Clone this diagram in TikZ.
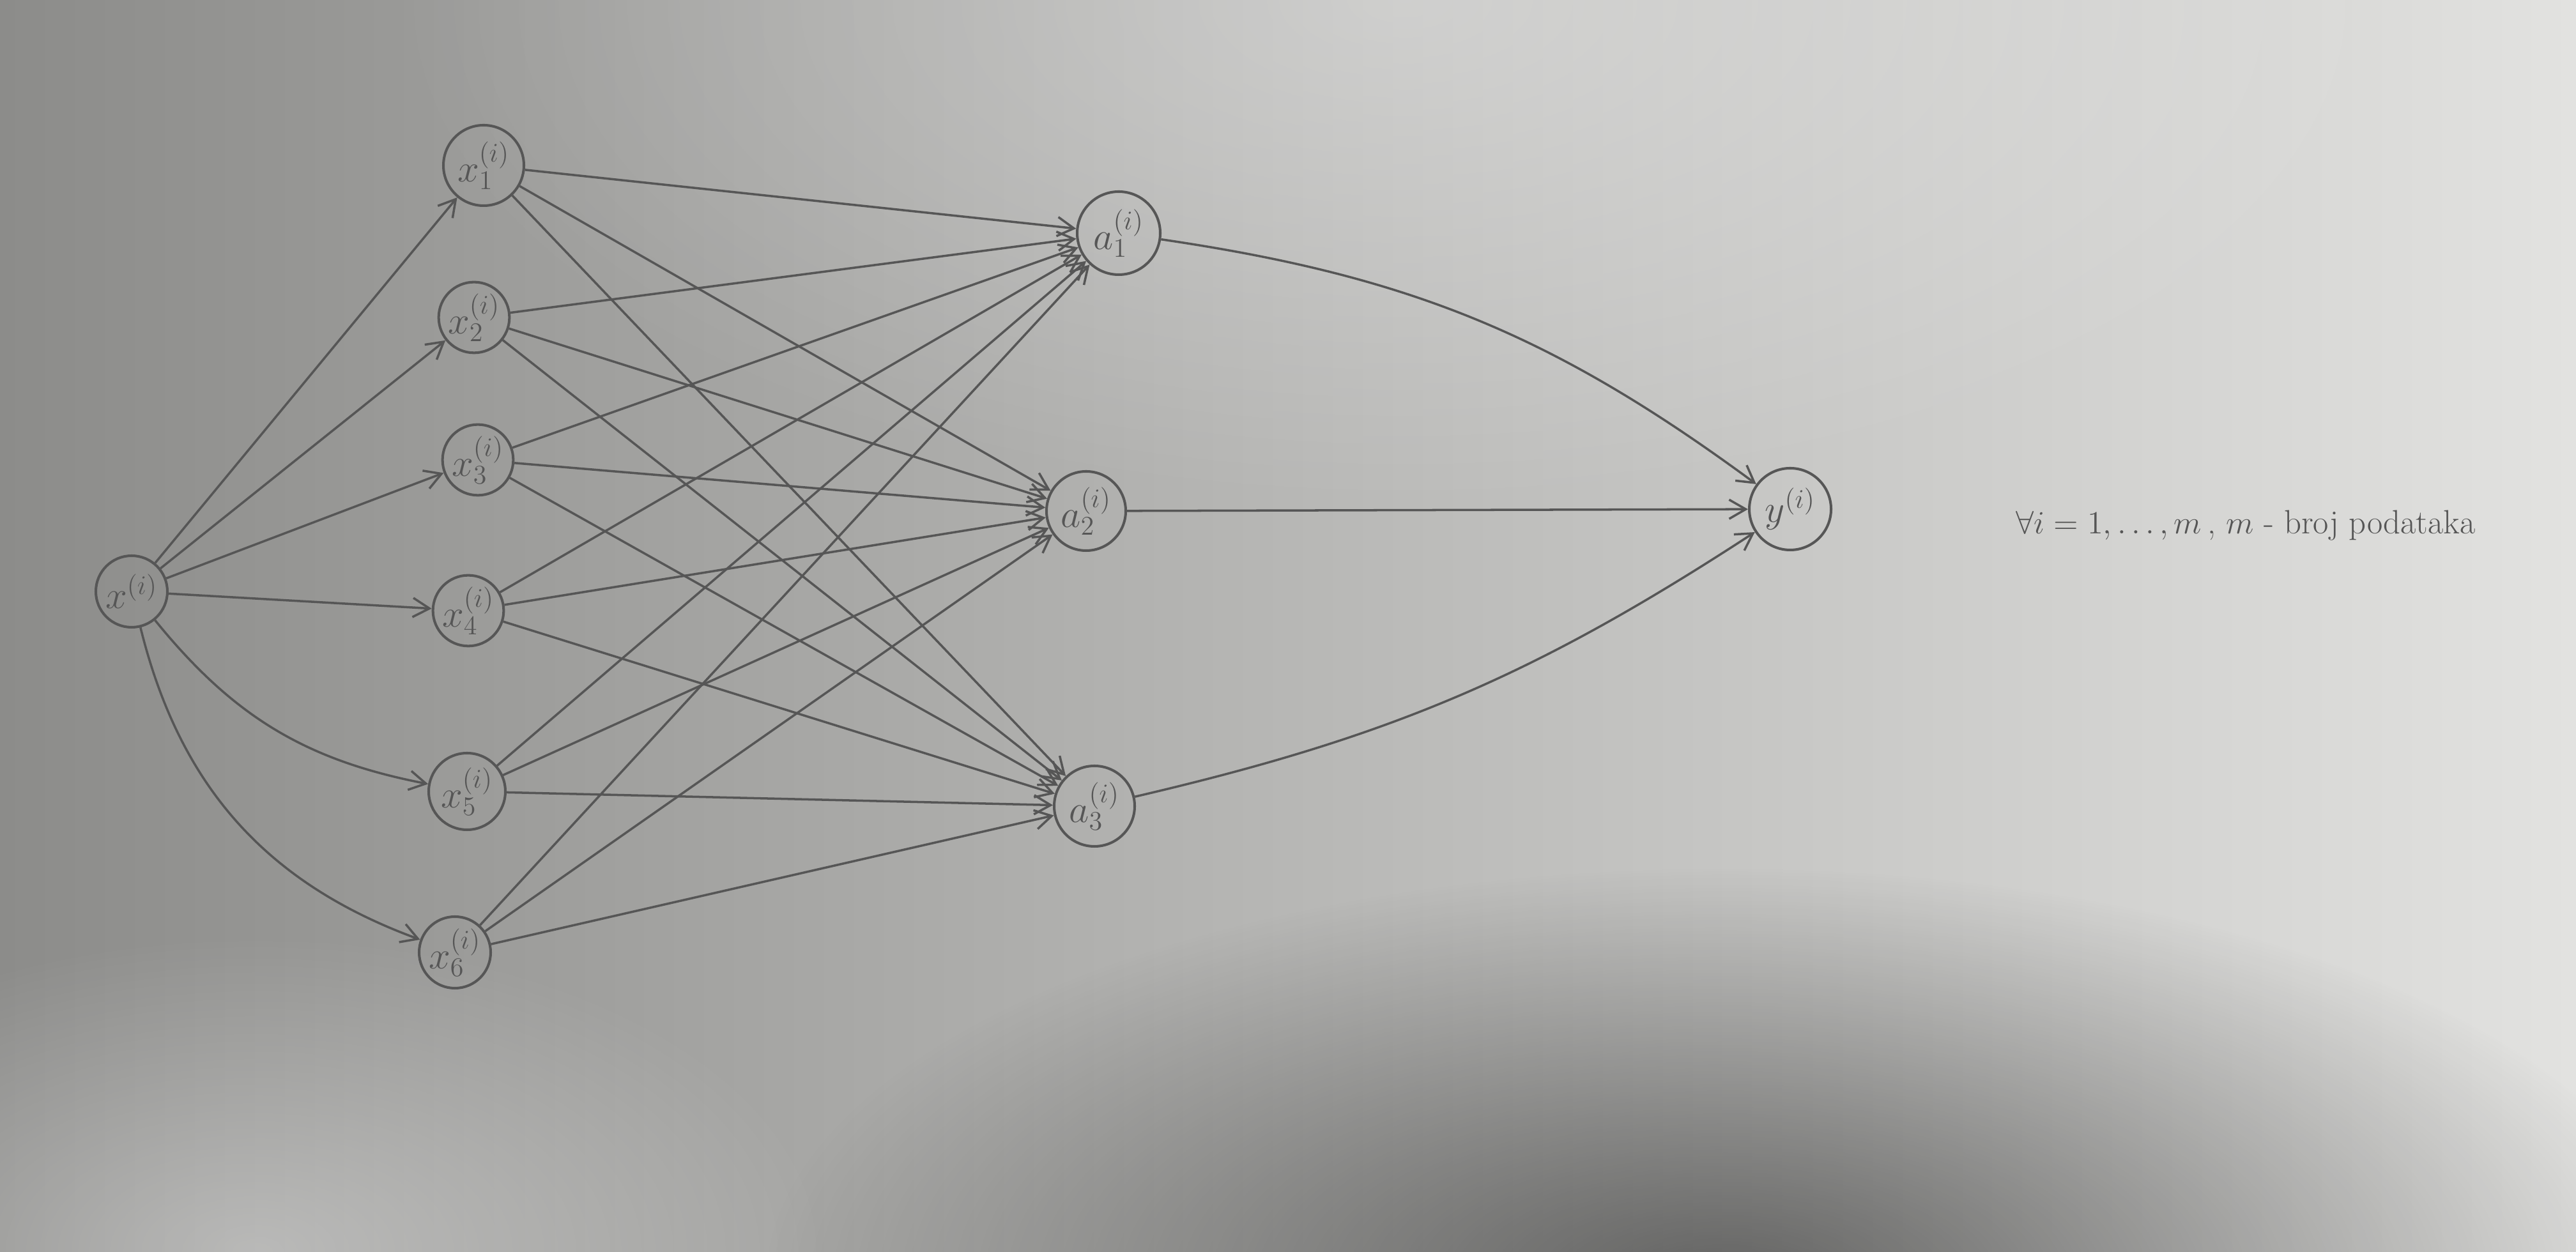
\documentclass[tikz,border=0pt]{standalone}
\usetikzlibrary{arrows.meta,fadings}
\definecolor{pencil}{HTML}{565656}
\definecolor{bgL}{HTML}{8C8C8A}
\definecolor{bgM}{HTML}{CDCDCB}
\definecolor{bgR}{HTML}{E2E2E0}
\tikzfading[name=softspot, inner color=transparent!0, outer color=transparent!100]
\begin{document}
\begin{tikzpicture}[
  pen/.style={draw=pencil, line width=1pt},
  neuron/.style={circle, draw=pencil, line width=1.15pt, inner sep=0pt, text=pencil,
                 font=\fontsize{18}{20}\selectfont},
  conn/.style={pen, -{Straight Barb[length=2.6mm,width=3mm]}}]
\useasboundingbox (0,0) rectangle (40.32,19.6);
\shade[left color=bgL, middle color=bgM, right color=bgR] (0,0) rectangle (40.32,19.6);
\fill[black, opacity=0.5, path fading=softspot] (27,-0.5) ellipse (15 and 6.5);
\fill[white, opacity=0.35, path fading=softspot] (4,0) ellipse (9 and 5);
\fill[white, opacity=0.3, path fading=softspot] (22,19.6) ellipse (16 and 8);

\node[neuron, minimum size=1.12cm] (x)  at (2.06,10.34) {$x^{(i)}$};
\node[neuron, minimum size=1.26cm] (x1) at (7.57,17.01) {$x_1^{(i)}$};
\node[neuron, minimum size=1.04cm] (x2) at (7.42,14.63) {$x_2^{(i)}$};
\node[neuron, minimum size=1.06cm] (x3) at (7.48,12.40) {$x_3^{(i)}$};
\node[neuron, minimum size=1.10cm] (x4) at (7.33,10.04) {$x_4^{(i)}$};
\node[neuron, minimum size=1.20cm] (x5) at (7.31,7.21) {$x_5^{(i)}$};
\node[neuron, minimum size=1.12cm] (x6) at (7.12,4.69) {$x_6^{(i)}$};
\node[neuron, minimum size=1.30cm] (a1) at (17.51,15.95) {$a_1^{(i)}$};
\node[neuron, minimum size=1.24cm] (a2) at (17.00,11.60) {$a_2^{(i)}$};
\node[neuron, minimum size=1.26cm] (a3) at (17.13,6.98) {$a_3^{(i)}$};
\node[neuron, minimum size=1.28cm] (y)  at (28.02,11.63) {$y^{(i)}$};

\node[text=pencil, font=\fontsize{15}{17}\selectfont] (note) at (35.15,11.37)
  {$\forall i = 1, \ldots, m$\,, $m$ - broj podataka};

% input to features
\draw[conn] (x) -- (x1);
\draw[conn] (x) -- (x2);
\draw[conn] (x) -- (x3);
\draw[conn] (x) -- (x4);
\draw[conn] (x) to[bend right=20] (x5);
\draw[conn] (x) to[bend right=28] (x6);

% features to hidden
\foreach \s in {x1,x2,x3,x4,x5,x6}{
  \draw[conn] (\s) -- (a1);
  \draw[conn] (\s) -- (a2);
  \draw[conn] (\s) -- (a3);
}

% hidden to output
\draw[conn] (a1) to[bend left=14] (y);
\draw[conn] (a2) -- (y);
\draw[conn] (a3) to[bend right=10] (y);
\end{tikzpicture}
\end{document}
